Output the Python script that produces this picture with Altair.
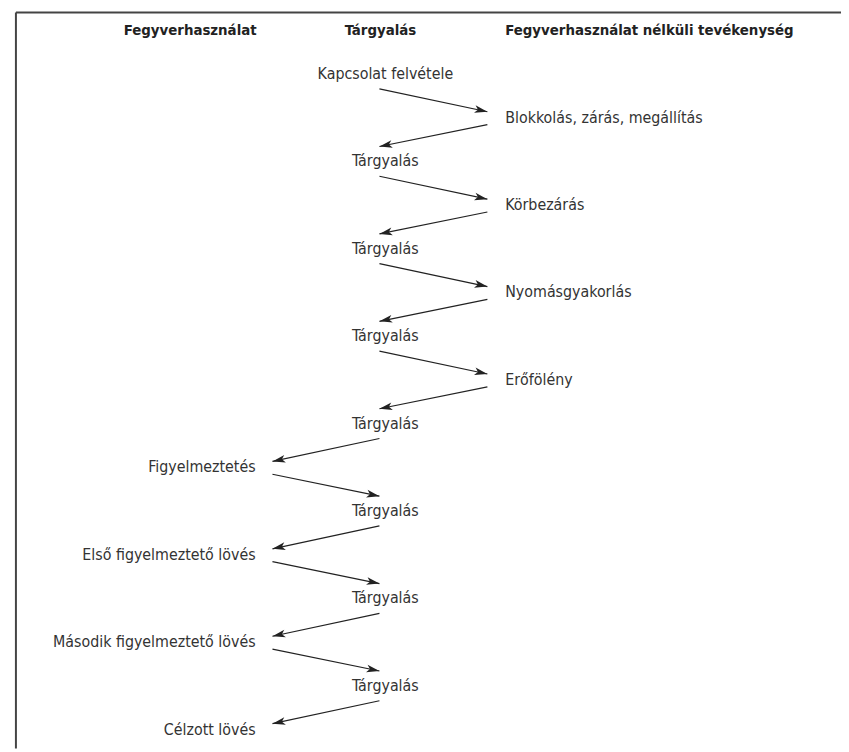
import math
import altair as alt
import pandas as pd

# ---------------- data ----------------
header_labels = ["Fegyverhasználat", "Tárgyalás", "Fegyverhasználat nélküli tevékenység"]
header_cols = ["left", "middle", "right"]

node_labels = [
    "Kapcsolat felvétele",
    "Blokkolás, zárás, megállítás",
    "Tárgyalás",
    "Körbezárás",
    "Tárgyalás",
    "Nyomásgyakorlás",
    "Tárgyalás",
    "Erőfölény",
    "Tárgyalás",
    "Figyelmeztetés",
    "Tárgyalás",
    "Első figyelmeztető lövés",
    "Tárgyalás",
    "Második figyelmeztető lövés",
    "Tárgyalás",
    "Célzott lövés",
]
node_cols = [
    "middle", "right", "middle", "right", "middle", "right", "middle", "right",
    "middle", "left", "middle", "left", "middle", "left", "middle", "left",
]

# ---------------- layout (pixel-like units) ----------------
W, H = 841, 744
X_DOM = [8, 8 + W]
Y_DOM = [8, 8 + H]
TEXT_X = {"left": 258, "middle": 389, "right": 510}
HEAD_X = {"left": 259, "middle": 384, "right": 510}
ALIGN = {"left": "right", "middle": "center", "right": "left"}
ARROW_X = {"left": 275, "middle": 383, "right": 492}
ROW0, ROW_STEP, HEADER_Y = 71, 44.13, 27
FONT = "DejaVu Sans Condensed, Liberation Sans Narrow, Arial Narrow, sans-serif"
FS = 16
HFS = 15

xs = alt.Scale(domain=X_DOM, nice=False, zero=False)
ys = alt.Scale(domain=Y_DOM, reverse=True, nice=False, zero=False)

def row_y(i):
    return ROW0 + ROW_STEP * i

nodes = pd.DataFrame({
    "label": node_labels,
    "col": node_cols,
    "x": [TEXT_X[c] for c in node_cols],
    "y": [row_y(i) for i in range(len(node_labels))],
})
heads = pd.DataFrame({
    "label": header_labels,
    "col": header_cols,
    "x": [HEAD_X[c] for c in header_cols],
    "y": [HEADER_Y] * len(header_labels),
})

# arrows between consecutive nodes
arrows = []
for i in range(len(node_labels) - 1):
    c0, c1 = node_cols[i], node_cols[i + 1]
    y0, y1 = row_y(i), row_y(i + 1)
    if c0 == "middle":
        sx, sy = ARROW_X[c0], y0 + 15
        ex, ey = ARROW_X[c1], y1 - 6
    else:
        sx, sy = ARROW_X[c0], y0 + 7
        ex, ey = ARROW_X[c1], y1 - 15
    ang = math.degrees(math.atan2(ey - sy, ex - sx)) % 360
    arrows.append({"x": sx, "y": sy, "x2": ex, "y2": ey, "angle": ang})
arrows = pd.DataFrame(arrows)

border = pd.DataFrame({
    "x": [16, 16], "y": [9, 9], "x2": [8 + W, 16], "y2": [9, 8 + H],
})

def X(f="x"):
    return alt.X(f"{f}:Q", scale=xs, axis=None)

def Y(f="y"):
    return alt.Y(f"{f}:Q", scale=ys, axis=None)

layers = []

layers.append(
    alt.Chart(border).mark_rule(color="#444444", strokeWidth=2).encode(
        x=X(), y=Y(), x2="x2:Q", y2="y2:Q"
    )
)

layers.append(
    alt.Chart(arrows).mark_rule(color="#222222", strokeWidth=1.2).encode(
        x=X(), y=Y(), x2="x2:Q", y2="y2:Q"
    )
)

ARROW_PATH = "M0,0 L-2,-0.6 L-1.5,0 L-2,0.6 Z"
layers.append(
    alt.Chart(arrows).mark_point(
        shape=ARROW_PATH, filled=True, color="#222222", opacity=1, size=169, strokeWidth=0
    ).encode(
        x=X("x2"), y=Y("y2"), angle=alt.Angle("angle:Q", scale=None)
    )
)

for col in ["left", "middle", "right"]:
    layers.append(
        alt.Chart(nodes[nodes.col == col]).mark_text(
            align=ALIGN[col], baseline="middle", font=FONT, fontSize=FS, color="#333333"
        ).encode(x=X(), y=Y(), text="label:N")
    )
    layers.append(
        alt.Chart(heads[heads.col == col]).mark_text(
            align=ALIGN[col], baseline="middle", font=FONT, fontSize=HFS,
            fontWeight="bold", color="#222222"
        ).encode(x=X(), y=Y(), text="label:N")
    )

chart = alt.layer(*layers).properties(
    width=W, height=H, padding=0, autosize="none", background="white"
).configure_view(stroke=None)

chart.save("out.html", embed_options={"renderer": "svg", "actions": False})
